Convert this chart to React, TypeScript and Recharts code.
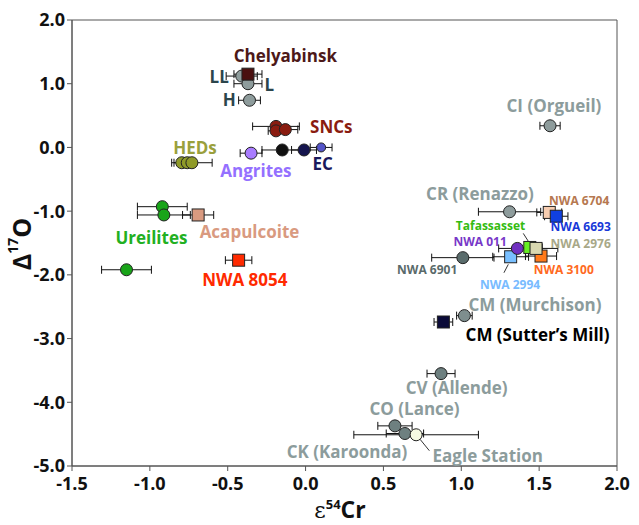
import React from "react";
import {
    ScatterChart,
    Scatter,
    XAxis,
    YAxis,
    ErrorBar,
    ReferenceDot,
    ReferenceLine,
    ReferenceArea,
    Label,
} from "recharts";

// each point: x = e54Cr, y = D17O, ex = 2 sigma on e54Cr
type Pt = { x: number; y: number; ex: number };

const xTicks = [-1.5, -1.0, -0.5, 0, 0.5, 1.0, 1.5, 2.0];
const yTicks = [2, 1, 0, -1, -2, -3, -4, -5];

const llChondrite: Pt[] = [{ x: -0.41, y: 1.12, ex: 0.1 }];
const lChondrite: Pt[] = [{ x: -0.37, y: 1.0, ex: 0.09 }];
const hChondrite: Pt[] = [{ x: -0.36, y: 0.74, ex: 0.07 }];
const chelyabinsk: Pt[] = [{ x: -0.37, y: 1.15, ex: 0.09 }];
const sncs: Pt[] = [
    { x: -0.19, y: 0.33, ex: 0.15 },
    { x: -0.19, y: 0.26, ex: 0.05 },
    { x: -0.13, y: 0.28, ex: 0.08 },
];
const heds: Pt[] = [
    { x: -0.795, y: -0.24, ex: 0.05 },
    { x: -0.76, y: -0.24, ex: 0.05 },
    { x: -0.73, y: -0.24, ex: 0.13 },
];
const angrites: Pt[] = [{ x: -0.35, y: -0.09, ex: 0.07 }];
const ecBlack: Pt[] = [{ x: -0.15, y: -0.04, ex: 0.13 }];
const ecNavy: Pt[] = [{ x: -0.01, y: -0.04, ex: 0.08 }];
const ecSmall: Pt[] = [{ x: 0.1, y: 0.0, ex: 0.07 }];
const ureilites: Pt[] = [
    { x: -0.92, y: -0.93, ex: 0.16 },
    { x: -0.91, y: -1.06, ex: 0.17 },
    { x: -1.15, y: -1.92, ex: 0.16 },
];
const acapulcoite: Pt[] = [{ x: -0.69, y: -1.06, ex: 0.1 }];
const nwa8054: Pt[] = [{ x: -0.43, y: -1.77, ex: 0.085 }];
const ciOrgueil: Pt[] = [{ x: 1.57, y: 0.34, ex: 0.065 }];
const crRenazzo: Pt[] = [{ x: 1.31, y: -1.01, ex: 0.2 }];
const nwa6704: Pt[] = [{ x: 1.565, y: -1.02, ex: 0.08 }];
const nwa6693: Pt[] = [{ x: 1.61, y: -1.08, ex: 0.075 }];
const nwa6901: Pt[] = [{ x: 1.01, y: -1.73, ex: 0.2 }];
const nwa011: Pt[] = [{ x: 1.36, y: -1.585, ex: 0.12 }];
const tafassasset: Pt[] = [{ x: 1.44, y: -1.57, ex: 0.08 }];
const nwa2976: Pt[] = [{ x: 1.48, y: -1.585, ex: 0.14 }];
const nwa2994: Pt[] = [{ x: 1.317, y: -1.716, ex: 0.115 }];
const nwa3100: Pt[] = [{ x: 1.512, y: -1.705, ex: 0.1 }];
const cmMurchison: Pt[] = [{ x: 1.02, y: -2.64, ex: 0.05 }];
const cmSuttersMill: Pt[] = [{ x: 0.885, y: -2.74, ex: 0.06 }];
const cvAllende: Pt[] = [{ x: 0.87, y: -3.55, ex: 0.09 }];
const coLance: Pt[] = [{ x: 0.574, y: -4.37, ex: 0.11 }];
const ckKaroonda: Pt[] = [{ x: 0.638, y: -4.49, ex: 0.12 }];
const eagleStation: Pt[] = [{ x: 0.71, y: -4.51, ex: 0.4 }];

type Series = { name: string; data: Pt[]; fill: string; square?: boolean; r?: number };

const series: Series[] = [
    { name: "LL", data: llChondrite, fill: "#8e9c9c" },
    { name: "L", data: lChondrite, fill: "#8e9c9c" },
    { name: "H", data: hChondrite, fill: "#8e9c9c" },
    { name: "Chelyabinsk", data: chelyabinsk, fill: "#4a1010", square: true },
    { name: "SNCs", data: sncs, fill: "#8a1c10" },
    { name: "HEDs", data: heds, fill: "#8f9a28" },
    { name: "Angrites", data: angrites, fill: "#a97cff" },
    { name: "EC1", data: ecBlack, fill: "#111111" },
    { name: "EC2", data: ecNavy, fill: "#15154e" },
    { name: "EC3", data: ecSmall, fill: "#5454c8", r: 4.5 },
    { name: "Ureilites", data: ureilites, fill: "#19a419" },
    { name: "Acapulcoite", data: acapulcoite, fill: "#d99a80", square: true },
    { name: "NWA 8054", data: nwa8054, fill: "#ff2a00", square: true },
    { name: "CI", data: ciOrgueil, fill: "#8e9c9c" },
    { name: "CR", data: crRenazzo, fill: "#8e9c9c" },
    { name: "NWA 6704", data: nwa6704, fill: "#f7cdb0", square: true },
    { name: "NWA 6693", data: nwa6693, fill: "#1040e0", square: true },
    { name: "NWA 6901", data: nwa6901, fill: "#5a6c6c" },
    { name: "NWA 2994", data: nwa2994, fill: "#78bfff", square: true },
    { name: "NWA 3100", data: nwa3100, fill: "#ff7a1a", square: true },
    { name: "NWA 011", data: nwa011, fill: "#7030c0" },
    { name: "Tafassasset", data: tafassasset, fill: "#66ee22", square: true },
    { name: "NWA 2976", data: nwa2976, fill: "#d8d8b0", square: true },
    { name: "CM", data: cmMurchison, fill: "#7e8e8e" },
    { name: "Sutter's Mill", data: cmSuttersMill, fill: "#0a0a38", square: true },
    { name: "CV", data: cvAllende, fill: "#6e8080" },
    { name: "CO", data: coLance, fill: "#6e8080" },
    { name: "CK", data: ckKaroonda, fill: "#6e8080" },
    { name: "Eagle Station", data: eagleStation, fill: "#f6f9e2" },
];

const gray = "#8c9c9c";
const big = 17;
const small = 12;
const labels = [
    { text: "Chelyabinsk", x: -0.13, y: 1.45, color: "#4d1818", size: big },
    { text: "LL", x: -0.555, y: 1.12, color: "#2b454c", size: big },
    { text: "L", x: -0.233, y: 0.99, color: "#2b454c", size: big },
    { text: "H", x: -0.49, y: 0.745, color: "#2b454c", size: big },
    { text: "SNCs", x: 0.165, y: 0.325, color: "#8a1c10", size: big },
    { text: "HEDs", x: -0.71, y: 0.0, color: "#9aa03c", size: big },
    { text: "Angrites", x: -0.319, y: -0.355, color: "#9470ff", size: big },
    { text: "EC", x: 0.11, y: -0.25, color: "#1a1a5c", size: big },
    { text: "Ureilites", x: -0.99, y: -1.41, color: "#22b022", size: big },
    { text: "Acapulcoite", x: -0.36, y: -1.32, color: "#d99a80", size: big },
    { text: "NWA 8054", x: -0.39, y: -2.07, color: "#ff2a00", size: big },
    { text: "CI (Orgueil)", x: 1.595, y: 0.665, color: gray, size: big },
    { text: "CR (Renazzo)", x: 1.12, y: -0.73, color: gray, size: big },
    { text: "NWA 6704", x: 1.757, y: -0.83, color: "#b67850", size: small },
    { text: "NWA 6693", x: 1.767, y: -1.24, color: "#1838d8", size: small },
    { text: "Tafassasset", x: 1.188, y: -1.218, color: "#33bb11", size: small },
    { text: "NWA 2976", x: 1.767, y: -1.5, color: "#a8a888", size: small },
    { text: "NWA 011", x: 1.121, y: -1.48, color: "#7838c8", size: small },
    { text: "NWA 6901", x: 0.781, y: -1.914, color: "#5a6a6a", size: small },
    { text: "NWA 3100", x: 1.658, y: -1.914, color: "#ff6a22", size: small },
    { text: "NWA 2994", x: 1.313, y: -2.15, color: "#78bbff", size: small },
    { text: "CM (Murchison)", x: 1.473, y: -2.47, color: gray, size: big },
    { text: "CM (Sutter\u2019s Mill)", x: 1.49, y: -2.93, color: "#000000", size: big },
    { text: "CV (Allende)", x: 0.97, y: -3.77, color: gray, size: big },
    { text: "CO (Lance)", x: 0.7, y: -4.1, color: gray, size: big },
    { text: "CK (Karoonda)", x: 0.266, y: -4.77, color: gray, size: big },
    { text: "Eagle Station", x: 1.17, y: -4.83, color: gray, size: big },
];

const leaders = [
    [{ x: 1.398, y: -1.349 }, { x: 1.435, y: -1.49 }],
    [{ x: 1.302, y: -1.835 }, { x: 1.274, y: -1.967 }],
    [{ x: 0.735, y: -4.58 }, { x: 0.795, y: -4.76 }],
];

const font = "'Open Sans', sans-serif";

function markerShape(s: Series) {
    const r = s.r ?? 6;
    return (p: any) =>
        s.square ? (
            <rect x={p.cx - r} y={p.cy - r} width={2 * r} height={2 * r} fill={s.fill} stroke="#222" strokeWidth={1} />
        ) : (
            <circle cx={p.cx} cy={p.cy} r={r} fill={s.fill} stroke="#222" strokeWidth={1} />
        );
}

export default function App() {
    return (
        <div style={{ position: "absolute", left: 0, top: 0, background: "#fff" }}>
            <ScatterChart width={639} height={525} margin={{ top: 20, right: 22, bottom: 29, left: 0 }}>
                <XAxis
                    type="number"
                    dataKey="x"
                    domain={[-1.5, 2]}
                    ticks={xTicks}
                    allowDataOverflow
                    height={30}
                    tickSize={5}
                    tickMargin={6}
                    stroke="#555"
                    tickFormatter={(v) => Number(v).toFixed(1)}
                    tick={{ fill: "#111", fontSize: 18, fontWeight: 700, fontFamily: font }}
                >
                    <Label
                        content={() => (
                            <text x={340} y={518} textAnchor="middle" fill="#111">
                                <tspan fontFamily="'DejaVu Serif', serif" fontSize={22}>ε</tspan>
                                <tspan fontFamily={font} fontWeight={700} fontSize={13} dy={-9}>54</tspan>
                                <tspan fontFamily={font} fontWeight={700} fontSize={23} dy={9}>Cr</tspan>
                            </text>
                        )}
                    />
                </XAxis>
                <YAxis
                    type="number"
                    dataKey="y"
                    domain={[-5, 2]}
                    ticks={yTicks}
                    allowDataOverflow
                    width={72}
                    tickSize={5}
                    stroke="#555"
                    tickFormatter={(v) => Number(v).toFixed(1)}
                    tick={{ fill: "#111", fontSize: 18, fontWeight: 700, fontFamily: font }}
                >
                    <Label
                        content={() => (
                            <text
                                x={21}
                                y={244}
                                transform="rotate(-90 21 244)"
                                textAnchor="middle"
                                dominantBaseline="central"
                                fill="#111"
                                fontFamily={font}
                                fontWeight={700}
                            >
                                <tspan fontSize={25}>Δ</tspan>
                                <tspan fontSize={14} dy={-9}>17</tspan>
                                <tspan fontSize={25} dy={9}>O</tspan>
                            </text>
                        )}
                    />
                </YAxis>
                <ReferenceArea x1={-1.5} x2={2} y1={-5} y2={2} fill="none" stroke="#555" strokeWidth={1} />
                {leaders.map((seg, i) => (
                    <ReferenceLine key={i} segment={seg} stroke="#333" strokeWidth={1} ifOverflow="visible" />
                ))}
                {series.map((s) => (
                    <Scatter key={s.name} name={s.name} data={s.data} isAnimationActive={false} shape={markerShape(s)}>
                        <ErrorBar dataKey="ex" direction="x" width={4} stroke="#111" strokeWidth={1} />
                    </Scatter>
                ))}
                {labels.map((l) => (
                    <ReferenceDot
                        key={l.text}
                        x={l.x}
                        y={l.y}
                        r={0}
                        ifOverflow="visible"
                        shape={(p: any) => (
                            <text
                                x={p.cx}
                                y={p.cy}
                                textAnchor="middle"
                                dominantBaseline="central"
                                fill={l.color}
                                fontFamily={font}
                                fontWeight={700}
                                fontSize={l.size}
                            >
                                {l.text}
                            </text>
                        )}
                    />
                ))}
            </ScatterChart>
        </div>
    );
}
